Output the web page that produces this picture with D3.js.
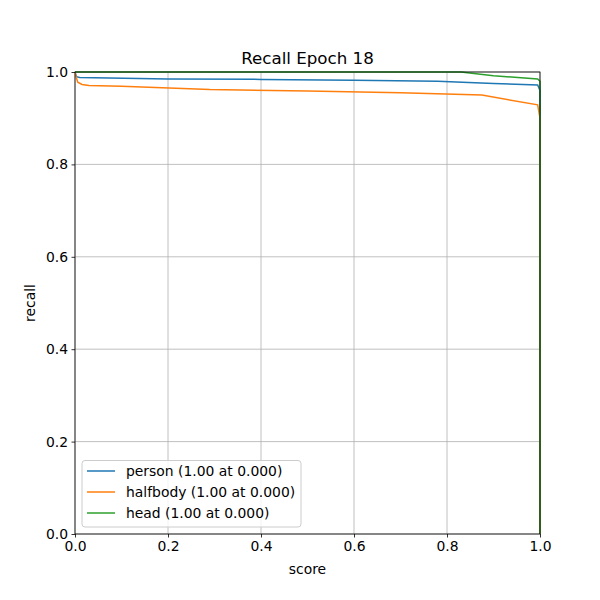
<!DOCTYPE html>
<html><head><meta charset="utf-8">
<script src="https://cdn.jsdelivr.net/npm/d3@7"></script>
<style>body{margin:0;background:#fff}text{font-family:"DejaVu Sans",sans-serif}</style>
</head><body>
<svg id="c" width="600" height="600"></svg>
<script>
const title = "Recall Epoch 18";
const seriesNames = ["person", "halfbody", "head"];
const seriesLabels = ["person (1.00 at 0.000)", "halfbody (1.00 at 0.000)", "head (1.00 at 0.000)"];
const colors = ["#1f77b4", "#ff7f0e", "#2ca02c"];
const personX = [0, 0.003, 0.01, 0.2, 0.4, 0.6, 0.78, 0.9, 0.995, 1.0, 1.0];
const personY = [1.0, 0.99, 0.988, 0.985, 0.984, 0.982, 0.980, 0.975, 0.972, 0.96, 0.0];
const halfbodyX = [0, 0.002, 0.006, 0.015, 0.03, 0.1, 0.29, 0.5, 0.7, 0.875, 0.995, 1.0, 1.0];
const halfbodyY = [1.0, 0.99, 0.978, 0.973, 0.971, 0.969, 0.962, 0.959, 0.955, 0.950, 0.929, 0.9, 0.0];
const headX = [0, 0.5, 0.83, 0.9, 0.995, 1.0, 1.0];
const headY = [1.0, 1.0, 1.0, 0.992, 0.985, 0.98, 0.0];
const xTicks = [0, 0.2, 0.4, 0.6, 0.8, 1.0];
const yTicks = [0, 0.2, 0.4, 0.6, 0.8, 1.0];

const svg = d3.select("#c");
const L = 75, R = 540, T = 72, B = 534;
const x = d3.scaleLinear().domain([0, 1]).range([L, R]);
const y = d3.scaleLinear().domain([0, 1]).range([B, T]);

// grid
svg.append("g").selectAll("line").data(xTicks).join("line")
  .attr("x1", d => x(d)).attr("x2", d => x(d)).attr("y1", T).attr("y2", B)
  .attr("stroke", "#b0b0b0").attr("stroke-width", 0.8);
svg.append("g").selectAll("line").data(yTicks).join("line")
  .attr("y1", d => y(d)).attr("y2", d => y(d)).attr("x1", L).attr("x2", R)
  .attr("stroke", "#b0b0b0").attr("stroke-width", 0.8);

const data = [
  {xs: personX, ys: personY},
  {xs: halfbodyX, ys: halfbodyY},
  {xs: headX, ys: headY}
];
const line = d3.line().x(d => x(d[0])).y(d => y(d[1]));
const clip = svg.append("clipPath").attr("id", "clp").append("rect")
  .attr("x", L).attr("y", T - 1).attr("width", R - L + 1).attr("height", B - T + 1);
data.forEach((s, i) => {
  const pts = s.xs.map((v, j) => [v, s.ys[j]]);
  svg.append("path").attr("d", line(pts)).attr("fill", "none")
    .attr("stroke", colors[i]).attr("stroke-width", 1.5).attr("clip-path", "url(#clp)");
});

// axes
const fmt = d3.format(".1f");
const xa = svg.append("g").attr("transform", `translate(0,${B})`)
  .call(d3.axisBottom(x).tickValues(xTicks).tickFormat(fmt).tickSize(3.5).tickPadding(3.5));
const ya = svg.append("g").attr("transform", `translate(${L},0)`)
  .call(d3.axisLeft(y).tickValues(yTicks).tickFormat(fmt).tickSize(3.5).tickPadding(3.5));
[xa, ya].forEach(a => {
  a.select(".domain").remove();
  a.selectAll("text").attr("font-size", 13.9).attr("fill", "#000").attr("font-family", "DejaVu Sans");
  a.selectAll("line").attr("stroke", "#000").attr("stroke-width", 0.8);
});
svg.append("rect").attr("x", L).attr("y", T).attr("width", R - L).attr("height", B - T)
  .attr("fill", "none").attr("stroke", "#000").attr("stroke-width", 0.8);

svg.append("text").attr("x", (L + R) / 2).attr("y", 64).attr("text-anchor", "middle")
  .attr("font-size", 16.7).text(title);
svg.append("text").attr("x", (L + R) / 2).attr("y", 574).attr("text-anchor", "middle")
  .attr("font-size", 13.9).text("score");
svg.append("text").attr("transform", `translate(35,${(T + B) / 2}) rotate(-90)`)
  .attr("text-anchor", "middle").attr("font-size", 13.9).text("recall");

// legend
const lg = svg.append("g");
lg.append("rect").attr("x", 82).attr("y", 460.5).attr("width", 219).attr("height", 66.5).attr("rx", 3)
  .attr("fill", "#fff").attr("fill-opacity", 0.8).attr("stroke", "#ccc").attr("stroke-width", 1);
seriesLabels.forEach((t, i) => {
  const yy = 471 + i * 21;
  lg.append("line").attr("x1", 87).attr("x2", 115).attr("y1", yy).attr("y2", yy)
    .attr("stroke", colors[i]).attr("stroke-width", 1.5);
  lg.append("text").attr("x", 126).attr("y", yy + 5).attr("font-size", 13.9).text(t);
});
</script>
</body></html>
